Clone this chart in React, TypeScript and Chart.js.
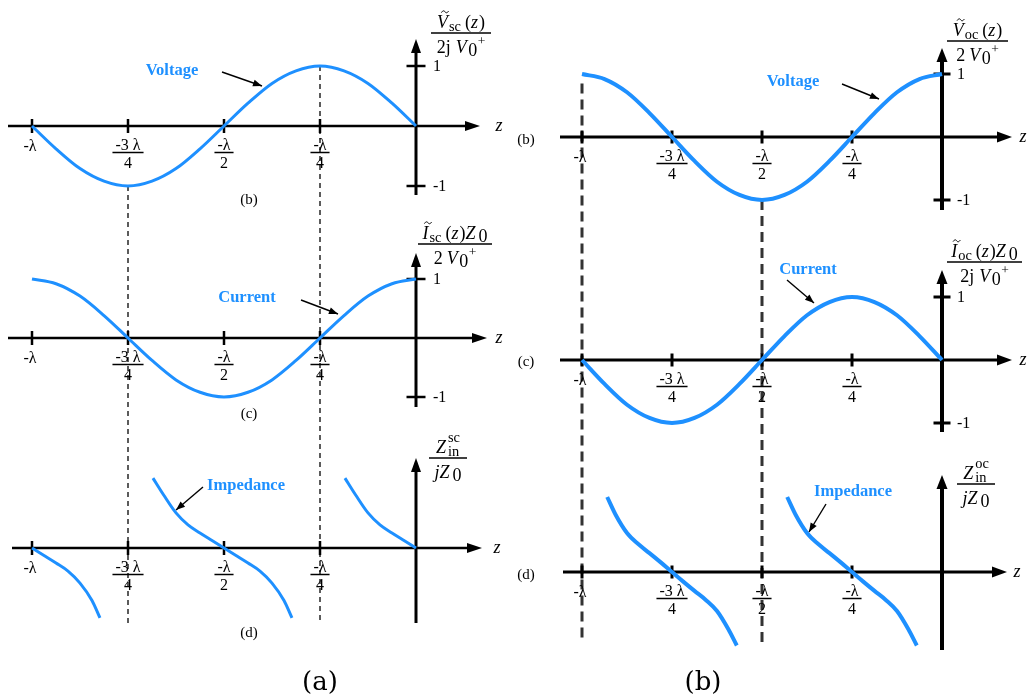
import { useEffect, useRef } from 'react';
import { Chart, registerables } from 'chart.js';

Chart.register(...registerables);

// ---- data (z in wavelengths, z/λ) ----
// standing-wave samples every λ/16 from z = -λ to z = 0
const zSine = [-1, -0.9375, -0.875, -0.8125, -0.75, -0.6875, -0.625, -0.5625, -0.5, -0.4375, -0.375, -0.3125, -0.25, -0.1875, -0.125, -0.0625, 0];
const vScValues = [0, -0.38, -0.71, -0.92, -1, -0.92, -0.71, -0.38, 0, 0.38, 0.71, 0.92, 1, 0.92, 0.71, 0.38, 0];
const iScValues = [1, 0.92, 0.71, 0.38, 0, -0.38, -0.71, -0.92, -1, -0.92, -0.71, -0.38, 0, 0.38, 0.71, 0.92, 1];
const vOcValues = [1, 0.92, 0.71, 0.38, 0, -0.38, -0.71, -0.92, -1, -0.92, -0.71, -0.38, 0, 0.38, 0.71, 0.92, 1];
const iOcValues = [0, -0.38, -0.71, -0.92, -1, -0.92, -0.71, -0.38, 0, 0.38, 0.71, 0.92, 1, 0.92, 0.71, 0.38, 0];

// short-circuit input impedance branches (Z_in / jZ0)
const zScBranch1 = [-1, -0.96875, -0.9375, -0.90625, -0.875, -0.84375, -0.823];
const zinScBranch1 = [0, -0.25, -0.5, -0.77, -1.17, -1.75, -2.33];
const zScBranch2 = [-0.685, -0.65625, -0.625, -0.59375, -0.5625, -0.53125, -0.5, -0.46875, -0.4375, -0.40625, -0.375, -0.34375, -0.323];
const zinScBranch2 = [2.33, 1.75, 1.17, 0.77, 0.5, 0.25, 0, -0.25, -0.5, -0.77, -1.17, -1.75, -2.33];
const zScBranch3 = [-0.185, -0.15625, -0.125, -0.09375, -0.0625, -0.03125, 0];
const zinScBranch3 = [2.33, 1.75, 1.17, 0.77, 0.5, 0.25, 0];

// open-circuit input impedance branches (Z_in / jZ0)
const zOcBranch1 = [-0.93, -0.90625, -0.875, -0.84375, -0.8125, -0.78125, -0.75, -0.71875, -0.6875, -0.65625, -0.625, -0.59375, -0.57];
const zinOcBranch1 = [2.5, 1.9, 1.3, 0.93, 0.63, 0.32, 0, -0.32, -0.63, -0.93, -1.3, -1.9, -2.45];
const zOcBranch2 = [-0.43, -0.40625, -0.375, -0.34375, -0.3125, -0.28125, -0.25, -0.21875, -0.1875, -0.15625, -0.125, -0.09375, -0.07];
const zinOcBranch2 = [2.5, 1.9, 1.3, 0.93, 0.63, 0.32, 0, -0.32, -0.63, -0.93, -1.3, -1.9, -2.45];

// axis ticks
const zTicks = [-1, -0.75, -0.5, -0.25];
const zTickLabels = [['-λ'], ['-3 λ', '4'], ['-λ', '2'], ['-λ', '4']];
const yTicks = [1, -1];
const yTickLabels = ['1', '-1'];

// ---- styling ----
const W = 1028;
const H = 698;
const SERIF = '"Liberation Serif", "Times New Roman", serif';
const BLUE = '#1e90ff';
const INK = '#000';

const font = (size: number, style = '') => `${style} ${size}px ${SERIF}`.trim();

// linear scale bounds so that value v0 lands on pixel p0 and v1 on p1
function fitAxis(v0: number, p0: number, v1: number, p1: number, size: number, vertical: boolean) {
  const a = (p1 - p0) / (v1 - v0);
  const at = (p: number) => v0 + (p - p0) / a;
  return vertical ? { min: at(size), max: at(0) } : { min: at(0), max: at(size) };
}

const scaleDefs: Record<string, { min: number; max: number; axis: 'x' | 'y' }> = {
  xL: { ...fitAxis(-1, 32, 0, 416, W, false), axis: 'x' },
  xR: { ...fitAxis(-1, 582, 0, 942, W, false), axis: 'x' },
  yL1: { ...fitAxis(1, 66, -1, 186, H, true), axis: 'y' },
  yL2: { ...fitAxis(1, 279, -1, 397, H, true), axis: 'y' },
  yL3: { ...fitAxis(0, 548, 1, 518, H, true), axis: 'y' },
  yR1: { ...fitAxis(1, 74, -1, 200, H, true), axis: 'y' },
  yR2: { ...fitAxis(1, 297, -1, 423, H, true), axis: 'y' },
  yR3: { ...fitAxis(0, 572, 1, 542, H, true), axis: 'y' },
};

type ColStyle = { axisW: number; yAxisW: number; tickHalf: number; yTickHalf: number; yLabelDx: number; head: number; headHalf: number };
const LEFT: ColStyle = { axisW: 2.5, yAxisW: 3, tickHalf: 7, yTickHalf: 9.5, yLabelDx: 17, head: 15, headHalf: 5 };
const RIGHT: ColStyle = { axisW: 3, yAxisW: 4, tickHalf: 6.5, yTickHalf: 8.5, yLabelDx: 15, head: 15, headHalf: 5.5 };

type Run = { t?: string; it?: boolean; s?: number; dy?: number; tilde?: boolean; sup?: string; sub?: string; gap?: number };

const panels = [
  { x: 'xL', y: 'yL1', col: LEFT, axis: [8, 480], yAxis: [39, 195], ticks: true, tag: '(b)', tagAt: [249, 200], zAt: [499, 126] },
  { x: 'xL', y: 'yL2', col: LEFT, axis: [8, 487], yAxis: [253, 407], ticks: true, tag: '(c)', tagAt: [249, 414], zAt: [499, 338] },
  { x: 'xL', y: 'yL3', col: LEFT, axis: [12, 482], yAxis: [458, 623], ticks: false, tag: '(d)', tagAt: [249, 633], zAt: [497, 548] },
  { x: 'xR', y: 'yR1', col: RIGHT, axis: [560, 1012], yAxis: [48, 210], ticks: true, tag: '(b)', tagAt: [526, 140], zAt: [1023, 137] },
  { x: 'xR', y: 'yR2', col: RIGHT, axis: [560, 1012], yAxis: [270, 432], ticks: true, tag: '(c)', tagAt: [526, 362], zAt: [1023, 360] },
  { x: 'xR', y: 'yR3', col: RIGHT, axis: [563, 1007], yAxis: [475, 650], ticks: false, tag: '(d)', tagAt: [526, 575], zAt: [1017, 572] },
];

// vertical dashed guides linking the panels
const guides = [
  { x: 'xL', z: -0.75, fromY: 'yL1', from: -1, toY: 'yL3', to: -2.5, w: 1.6, dash: [5, 4] },
  { x: 'xL', z: -0.25, fromY: 'yL1', from: 1, toY: 'yL3', to: -2.5, w: 1.6, dash: [5, 4] },
  { x: 'xR', z: -1, fromY: 'yR1', from: 0.85, toY: 'yR3', to: -2.27, w: 3, dash: [10, 6] },
  { x: 'xR', z: -0.5, fromY: 'yR1', from: -1, toY: 'yR3', to: -2.53, w: 3, dash: [10, 6] },
];

const vDen2j: Run[] = [{ t: '2j', gap: 5 }, { t: 'V', it: true, gap: 1.5 }, { t: '0', dy: 3, gap: 0.5 }, { t: '+', s: 0.75, dy: -8 }];
const vDen2: Run[] = [{ t: '2', gap: 4 }, { t: 'V', it: true, gap: 1.5 }, { t: '0', dy: 3, gap: 0.5 }, { t: '+', s: 0.75, dy: -8 }];
const zDen: Run[] = [{ t: 'j', it: true }, { t: 'Z', it: true, gap: 3 }, { t: '0', dy: 3 }];

const titles = [
  { x1: 431, x2: 491, line: 33, num: [{ t: 'V', it: true, tilde: true, gap: 1 }, { t: 'sc', s: 0.8, dy: 3, gap: 4 }, { t: '(' }, { t: 'z', it: true, gap: 1 }, { t: ')' }] as Run[], den: vDen2j },
  { x1: 418, x2: 492, line: 244, num: [{ t: 'I', it: true, tilde: true, gap: 1 }, { t: 'sc', s: 0.8, dy: 3, gap: 4 }, { t: '(' }, { t: 'z', it: true, gap: 1 }, { t: ')' }, { t: 'Z', it: true, gap: 3 }, { t: '0', dy: 3 }] as Run[], den: vDen2 },
  { x1: 429, x2: 467, line: 458, num: [{ t: 'Z', it: true, gap: 2 }, { sup: 'sc', sub: 'in' }] as Run[], den: zDen },
  { x1: 947, x2: 1008, line: 41, num: [{ t: 'V', it: true, tilde: true, gap: 1 }, { t: 'oc', s: 0.8, dy: 3, gap: 4 }, { t: '(' }, { t: 'z', it: true, gap: 1 }, { t: ')' }] as Run[], den: vDen2 },
  { x1: 947, x2: 1022, line: 262, num: [{ t: 'I', it: true, tilde: true, gap: 1 }, { t: 'oc', s: 0.8, dy: 3, gap: 4 }, { t: '(' }, { t: 'z', it: true, gap: 1 }, { t: ')' }, { t: 'Z', it: true, gap: 3 }, { t: '0', dy: 3 }] as Run[], den: vDen2j },
  { x1: 957, x2: 995, line: 484, num: [{ t: 'Z', it: true, gap: 2 }, { sup: 'oc', sub: 'in' }] as Run[], den: zDen },
];

const callouts = [
  { text: 'Voltage', at: [172, 71], from: [222, 72], to: [262, 86] },
  { text: 'Current', at: [247, 298], from: [301, 300], to: [338, 314] },
  { text: 'Impedance', at: [246, 486], from: [203, 487], to: [176, 510] },
  { text: 'Voltage', at: [793, 82], from: [842, 84], to: [879, 99] },
  { text: 'Current', at: [808, 270], from: [787, 280], to: [814, 303] },
  { text: 'Impedance', at: [853, 492], from: [826, 504], to: [809, 532] },
];

const captions = [
  { text: '(a)', at: [320, 683] },
  { text: '(b)', at: [703, 683] },
];

const TITLE_SIZE = 18;

function runWidth(ctx: CanvasRenderingContext2D, r: Run, size: number) {
  if (r.sup !== undefined) {
    ctx.font = font(size * 0.8);
    return Math.max(ctx.measureText(r.sup).width, ctx.measureText(r.sub || '').width);
  }
  ctx.font = font(size * (r.s || 1), r.it ? 'italic' : '');
  return ctx.measureText(r.t || '').width + (r.gap || 0);
}

function drawRuns(ctx: CanvasRenderingContext2D, runs: Run[], cx: number, baseline: number, size: number) {
  const widths = runs.map((r) => runWidth(ctx, r, size));
  let x = cx - widths.reduce((a, b) => a + b, 0) / 2;
  ctx.textAlign = 'left';
  ctx.textBaseline = 'alphabetic';
  runs.forEach((r, i) => {
    if (r.sup !== undefined) {
      ctx.font = font(size * 0.8);
      ctx.fillText(r.sup, x, baseline - size * 0.62);
      ctx.fillText(r.sub || '', x, baseline + size * 0.14);
    } else {
      ctx.font = font(size * (r.s || 1), r.it ? 'italic' : '');
      ctx.fillText(r.t || '', x, baseline + (r.dy || 0));
      if (r.tilde) {
        // small tilde accent above the glyph
        const gw = ctx.measureText(r.t || '').width;
        const tx = x + gw / 2 + 2.5;
        const ty = baseline - size * 0.9;
        const hw = size * 0.2;
        ctx.save();
        ctx.lineWidth = 1;
        ctx.strokeStyle = INK;
        ctx.beginPath();
        ctx.moveTo(tx - hw, ty + 0.8);
        ctx.bezierCurveTo(tx - hw * 0.6, ty - 1.6, tx - hw * 0.2, ty - 1.2, tx, ty);
        ctx.bezierCurveTo(tx + hw * 0.2, ty + 1.2, tx + hw * 0.6, ty + 1.6, tx + hw, ty - 0.8);
        ctx.stroke();
        ctx.restore();
      }
    }
    x += widths[i];
  });
}

function arrowHead(ctx: CanvasRenderingContext2D, x1: number, y1: number, x2: number, y2: number, len: number, half: number) {
  const ang = Math.atan2(y2 - y1, x2 - x1);
  const bx = x2 - len * Math.cos(ang);
  const by = y2 - len * Math.sin(ang);
  ctx.beginPath();
  ctx.moveTo(x2, y2);
  ctx.lineTo(bx + half * Math.sin(ang), by - half * Math.cos(ang));
  ctx.lineTo(bx - half * Math.sin(ang), by + half * Math.cos(ang));
  ctx.closePath();
  ctx.fill();
}

const series = (zs: number[], vs: number[]) => zs.map((z, i) => ({ x: z, y: vs[i] }));

function curve(zs: number[], vs: number[], x: string, y: string, width: number) {
  return {
    data: series(zs, vs),
    xAxisID: x,
    yAxisID: y,
    borderColor: BLUE,
    borderWidth: width,
    pointRadius: 0,
    fill: false,
    cubicInterpolationMode: 'monotone' as const,
    borderCapStyle: 'butt' as const,
    clip: false as const,
  };
}

const diagramPlugin = {
  id: 'lineDiagram',
  beforeDatasetsDraw(chart: Chart) {
    const ctx = chart.ctx;
    const sc = chart.scales;
    ctx.save();
    ctx.fillStyle = '#fff';
    ctx.fillRect(0, 0, W, H);

    // dashed guides
    ctx.strokeStyle = '#333';
    guides.forEach((g) => {
      const px = sc[g.x].getPixelForValue(g.z);
      ctx.lineWidth = g.w;
      ctx.setLineDash(g.dash);
      ctx.beginPath();
      ctx.moveTo(px, sc[g.fromY].getPixelForValue(g.from));
      ctx.lineTo(px, sc[g.toY].getPixelForValue(g.to));
      ctx.stroke();
    });
    ctx.setLineDash([]);

    panels.forEach((p) => {
      const xs = sc[p.x];
      const ys = sc[p.y];
      const c = p.col;
      const ay = ys.getPixelForValue(0);
      const ax = xs.getPixelForValue(0);
      ctx.strokeStyle = INK;
      ctx.fillStyle = INK;

      // z axis
      ctx.lineWidth = c.axisW;
      ctx.beginPath();
      ctx.moveTo(p.axis[0], ay);
      ctx.lineTo(p.axis[1] - c.head + 2, ay);
      ctx.stroke();
      arrowHead(ctx, p.axis[0], ay, p.axis[1], ay, c.head, c.headHalf);

      // vertical axis
      ctx.lineWidth = c.yAxisW;
      ctx.beginPath();
      ctx.moveTo(ax, p.yAxis[1]);
      ctx.lineTo(ax, p.yAxis[0] + c.head - 2);
      ctx.stroke();
      arrowHead(ctx, ax, p.yAxis[1], ax, p.yAxis[0], c.head - 1, c.headHalf);

      // z ticks and labels
      ctx.lineWidth = c.axisW;
      zTicks.forEach((t, i) => {
        const px = xs.getPixelForValue(t);
        ctx.beginPath();
        ctx.moveTo(px, ay - c.tickHalf);
        ctx.lineTo(px, ay + c.tickHalf);
        ctx.stroke();
        const lab = zTickLabels[i];
        ctx.font = font(16);
        ctx.textAlign = 'center';
        ctx.textBaseline = 'alphabetic';
        if (lab.length === 1) {
          ctx.fillText(lab[0], px - 2, ay + 25);
        } else {
          const w = ctx.measureText(lab[0]).width + 6;
          ctx.fillText(lab[0], px, ay + 23.5);
          ctx.fillText(lab[1], px, ay + 42);
          ctx.save();
          ctx.lineWidth = 1.5;
          ctx.beginPath();
          ctx.moveTo(px - w / 2, ay + 26.5);
          ctx.lineTo(px + w / 2, ay + 26.5);
          ctx.stroke();
          ctx.restore();
        }
      });

      // value ticks
      if (p.ticks) {
        ctx.lineWidth = c.axisW;
        yTicks.forEach((t, i) => {
          const py = ys.getPixelForValue(t);
          ctx.beginPath();
          ctx.moveTo(ax - c.yTickHalf, py);
          ctx.lineTo(ax + c.yTickHalf, py);
          ctx.stroke();
          ctx.font = font(16);
          ctx.textAlign = 'left';
          ctx.textBaseline = 'middle';
          ctx.fillText(yTickLabels[i], ax + c.yLabelDx, py + 1);
        });
      }

      // axis name and panel tag
      ctx.font = font(18, 'italic');
      ctx.textAlign = 'center';
      ctx.textBaseline = 'middle';
      ctx.fillText('z', p.zAt[0], p.zAt[1]);
      ctx.font = font(15);
      ctx.fillText(p.tag, p.tagAt[0], p.tagAt[1]);
    });
    ctx.restore();
  },
  afterDatasetsDraw(chart: Chart) {
    const ctx = chart.ctx;
    ctx.save();
    ctx.fillStyle = INK;
    ctx.strokeStyle = INK;

    // fractional axis titles
    titles.forEach((t) => {
      const cx = (t.x1 + t.x2) / 2;
      ctx.lineWidth = 1.6;
      ctx.beginPath();
      ctx.moveTo(t.x1, t.line);
      ctx.lineTo(t.x2, t.line);
      ctx.stroke();
      drawRuns(ctx, t.num, cx, t.line - 5, TITLE_SIZE);
      drawRuns(ctx, t.den, cx, t.line + 20, TITLE_SIZE);
    });

    // curve callouts
    callouts.forEach((c) => {
      ctx.fillStyle = BLUE;
      ctx.font = font(16.5, 'bold');
      ctx.textAlign = 'center';
      ctx.textBaseline = 'middle';
      ctx.fillText(c.text, c.at[0], c.at[1]);
      ctx.fillStyle = INK;
      ctx.lineWidth = 1.4;
      ctx.beginPath();
      ctx.moveTo(c.from[0], c.from[1]);
      ctx.lineTo(c.to[0], c.to[1]);
      ctx.stroke();
      arrowHead(ctx, c.from[0], c.from[1], c.to[0], c.to[1], 9, 3.5);
    });

    // column captions
    ctx.fillStyle = INK;
    ctx.font = '26px "DejaVu Serif", serif';
    ctx.textAlign = 'center';
    ctx.textBaseline = 'middle';
    captions.forEach((c) => ctx.fillText(c.text, c.at[0], c.at[1]));
    ctx.restore();
  },
};

export default function App() {
  const ref = useRef<HTMLCanvasElement>(null);

  useEffect(() => {
    if (!ref.current) return;
    const scales: Record<string, object> = {};
    Object.entries(scaleDefs).forEach(([id, d]) => {
      scales[id] = { type: 'linear', axis: d.axis, display: false, min: d.min, max: d.max };
    });

    const chart = new Chart(ref.current, {
      type: 'line',
      data: {
        datasets: [
          curve(zSine, vScValues, 'xL', 'yL1', 3),
          curve(zSine, iScValues, 'xL', 'yL2', 3),
          curve(zScBranch1, zinScBranch1, 'xL', 'yL3', 3),
          curve(zScBranch2, zinScBranch2, 'xL', 'yL3', 3),
          curve(zScBranch3, zinScBranch3, 'xL', 'yL3', 3),
          curve(zSine, vOcValues, 'xR', 'yR1', 4),
          curve(zSine, iOcValues, 'xR', 'yR2', 4),
          curve(zOcBranch1, zinOcBranch1, 'xR', 'yR3', 4),
          curve(zOcBranch2, zinOcBranch2, 'xR', 'yR3', 4),
        ],
      },
      options: {
        animation: false,
        responsive: false,
        devicePixelRatio: 1,
        layout: { padding: 0 },
        scales: scales as any,
        plugins: { legend: { display: false }, tooltip: { enabled: false }, title: { display: false } },
        events: [],
      },
      plugins: [diagramPlugin],
    });
    return () => chart.destroy();
  }, []);

  return (
    <div style={{ position: 'absolute', left: 0, top: 0, width: W, height: H, background: '#fff' }}>
      <canvas ref={ref} width={W} height={H} style={{ display: 'block' }} />
    </div>
  );
}
